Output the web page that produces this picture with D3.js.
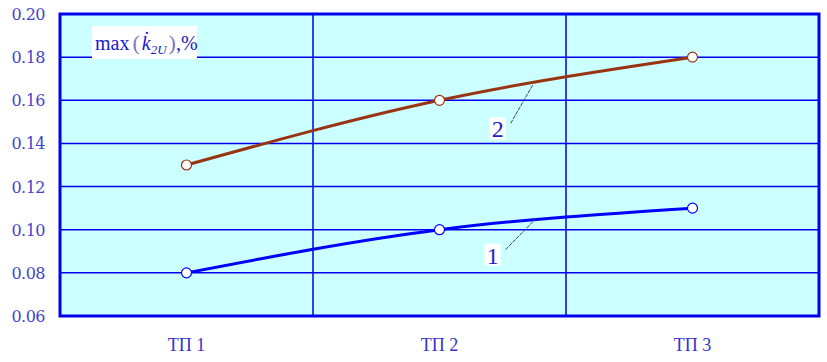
<!DOCTYPE html>
<html>
<head>
<meta charset="utf-8">
<script src="https://cdn.jsdelivr.net/npm/d3@7"></script>
<style>
  body { margin: 0; background: #fff; }
</style>
</head>
<body>
<svg id="chart"></svg>
<script>
const categories = ["ТП 1", "ТП 2", "ТП 3"];
const series1 = [0.08, 0.10, 0.11];
const series2 = [0.13, 0.16, 0.18];
const yTicks = [0.06, 0.08, 0.10, 0.12, 0.14, 0.16, 0.18, 0.20];
// label: [index position, value], leader end: [index position, value]
const labels = [
  { text: "1", at: [1.21, 0.0885], to: [1.385, 0.1056] },
  { text: "2", at: [1.23, 0.147], to: [1.37, 0.1674] }
];

const W = 827, H = 362;
const margin = { top: 14, right: 8, bottom: 46, left: 60 };

const svg = d3.select("#chart")
  .attr("width", W)
  .attr("height", H);

const x = d3.scaleLinear()
  .domain([-0.5, categories.length - 0.5])
  .range([margin.left, W - margin.right]);

const y = d3.scaleLinear()
  .domain([0.06, 0.20])
  .range([H - margin.bottom, margin.top]);

const blue = "#0000ee";

// background
svg.append("rect")
  .attr("x", x(-0.5)).attr("y", y(0.20))
  .attr("width", x(2.5) - x(-0.5))
  .attr("height", y(0.06) - y(0.20))
  .attr("fill", "#ccffff");

// horizontal grid
svg.append("g")
  .selectAll("line")
  .data(yTicks.slice(1, -1))
  .enter().append("line")
  .attr("x1", x(-0.5)).attr("x2", x(2.5))
  .attr("y1", d => y(d)).attr("y2", d => y(d))
  .attr("stroke", blue)
  .attr("stroke-width", 1.5);

// vertical grid at category boundaries
svg.append("g")
  .selectAll("line")
  .data([0.5, 1.5])
  .enter().append("line")
  .attr("x1", d => x(d)).attr("x2", d => x(d))
  .attr("y1", y(0.20)).attr("y2", y(0.06))
  .attr("stroke", blue)
  .attr("stroke-width", 1.5);

// y tick labels
svg.append("g")
  .selectAll("text")
  .data(yTicks)
  .enter().append("text")
  .attr("x", 45)
  .attr("y", d => y(d) + 6)
  .attr("text-anchor", "end")
  .style("font-family", "'DejaVu Serif', serif")
  .style("font-size", "16px")
  .attr("letter-spacing", -0.5)
  .attr("fill", "#4444cc")
  .text(d => d.toFixed(2));

// x labels
svg.append("g")
  .selectAll("text")
  .data(categories)
  .enter().append("text")
  .attr("x", (d, i) => x(i))
  .attr("y", 351)
  .attr("text-anchor", "middle")
  .style("font-family", "'Liberation Serif', serif")
  .style("font-size", "18px")
  .attr("fill", "#3333cc")
  .text(d => d);

// title box
const tb = svg.append("g");
tb.append("rect")
  .attr("x", 92).attr("y", 26)
  .attr("width", 105).attr("height", 33)
  .attr("fill", "#fff");
const tt = tb.append("text")
  .attr("x", 95).attr("y", 50)
  .style("font-family", "'Liberation Serif', serif")
  .style("font-size", "20px")
  .attr("fill", "#1a1acc");
tt.append("tspan").text("max");
tt.append("tspan").attr("dx", 3).style("font-size", "22px").attr("fill", "#7777cc").text("(");
tt.append("tspan").attr("dx", 2).attr("font-style", "italic").text("k\u0307");
tt.append("tspan").attr("dy", 4).style("font-size", "13px").attr("font-style", "italic").text("2U");
tt.append("tspan").attr("dy", -4).attr("dx", 2).style("font-size", "22px").attr("fill", "#7777cc").text(")");
tt.append("tspan").text(",%");

// series lines
const line = d3.line()
  .x((d, i) => x(i))
  .y(d => y(d))
  .curve(d3.curveMonotoneX);

const seriesList = [
  { values: series1, color: "#0000ff" },
  { values: series2, color: "#993311" }
];

seriesList.forEach(s => {
  svg.append("path")
    .datum(s.values)
    .attr("d", line)
    .attr("fill", "none")
    .attr("stroke", s.color)
    .attr("stroke-width", 3);
});

// leader lines and labels
labels.forEach(l => {
  svg.append("line")
    .attr("x1", x(l.at[0]) + 13).attr("y1", y(l.at[1]) - 5)
    .attr("x2", x(l.to[0])).attr("y2", y(l.to[1]))
    .attr("stroke", "#334466")
    .attr("stroke-width", 1)
    .attr("stroke-dasharray", "4,1");
  svg.append("rect")
    .attr("x", x(l.at[0]) - 8).attr("y", y(l.at[1]) - 11)
    .attr("width", 16).attr("height", 22)
    .attr("fill", "#fff");
  svg.append("text")
    .attr("x", x(l.at[0])).attr("y", y(l.at[1]) + 9)
    .attr("text-anchor", "middle")
    .style("font-family", "'Liberation Serif', serif")
    .style("font-size", "24px")
    .attr("fill", "#2222cc")
    .text(l.text);
});

// markers
seriesList.forEach(s => {
  svg.append("g")
    .selectAll("circle")
    .data(s.values)
    .enter().append("circle")
    .attr("cx", (d, i) => x(i))
    .attr("cy", d => y(d))
    .attr("r", 5)
    .attr("fill", "#fff")
    .attr("stroke", s.color)
    .attr("stroke-width", 1.2);
});

// plot border
svg.append("rect")
  .attr("x", x(-0.5)).attr("y", y(0.20))
  .attr("width", x(2.5) - x(-0.5))
  .attr("height", y(0.06) - y(0.20))
  .attr("fill", "none")
  .attr("stroke", blue)
  .attr("stroke-width", 3);
</script>
</body>
</html>
